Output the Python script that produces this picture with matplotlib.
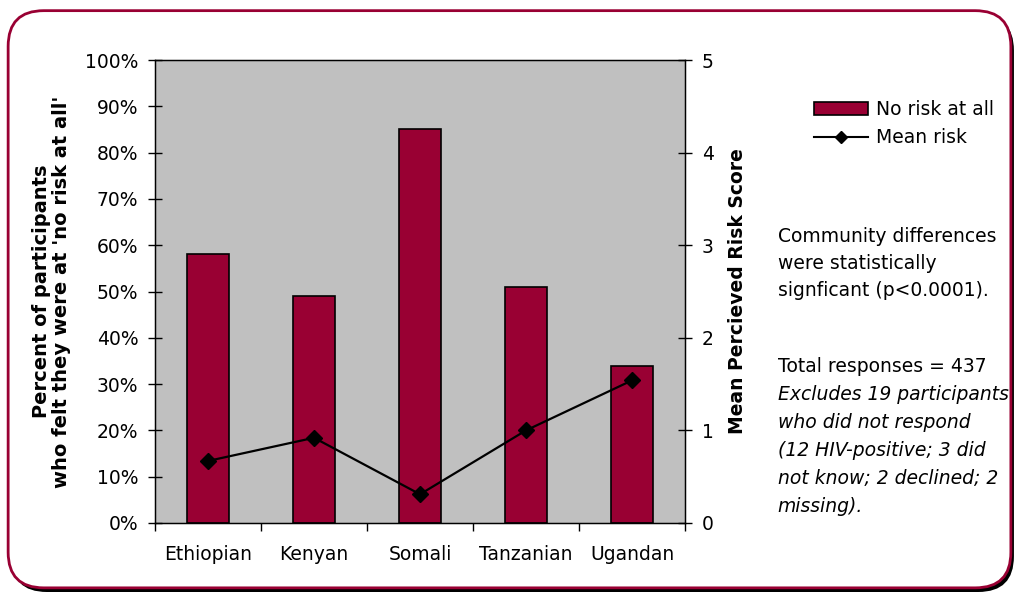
import numpy as np
import matplotlib.pyplot as plt
from matplotlib.patches import FancyBboxPatch
from matplotlib.lines import Line2D
from matplotlib.patches import Patch
from matplotlib.ticker import PercentFormatter

communities = ["Ethiopian", "Kenyan", "Somali", "Tanzanian", "Ugandan"]
no_risk_pct = [58, 49, 85, 51, 34]
mean_risk = [0.67, 0.92, 0.31, 1.0, 1.54]

bar_color = "#990033"
plot_bg = "#C0C0C0"

plt.rcParams["font.family"] = "DejaVu Sans"

fig = plt.figure(figsize=(10.18, 5.92), dpi=100)

# rounded frame with shadow
shadow = FancyBboxPatch((0.011, 0.0), 0.985, 0.975, boxstyle="round,pad=0,rounding_size=0.035",
                        transform=fig.transFigure, facecolor="black", edgecolor="none",
                        mutation_aspect=1018 / 592, zorder=-2)
frame = FancyBboxPatch((0.008, 0.007), 0.985, 0.975, boxstyle="round,pad=0,rounding_size=0.035",
                       transform=fig.transFigure, facecolor="white", edgecolor=bar_color,
                       linewidth=2, mutation_aspect=1018 / 592, zorder=-1)
fig.patches.extend([shadow, frame])

ax = fig.add_axes([0.1523, 0.1166, 0.5206, 0.782])
ax.set_facecolor(plot_bg)
x = np.arange(len(communities))
ax.bar(x, no_risk_pct, width=0.4, color=bar_color, edgecolor="black", linewidth=1.2, zorder=2)
ax.set_xlim(-0.5, len(communities) - 0.5)
ax.set_ylim(0, 100)
ax.set_yticks(np.arange(0, 101, 10))
ax.yaxis.set_major_formatter(PercentFormatter(decimals=0))
ax.set_xticks(x)
ax.set_xticklabels(communities, fontsize=13.5)
ax.tick_params(axis="x", length=0, pad=16)
ax.set_xticks(np.arange(-0.5, len(communities), 1), minor=True)
ax.tick_params(axis="x", which="minor", length=6, direction="out", width=1)
ax.tick_params(axis="y", direction="inout", length=10, labelsize=13.5, width=1, pad=7)
for s in ax.spines.values():
    s.set_linewidth(1)
    s.set_color("black")
ax.set_ylabel("Percent of participants\nwho felt they were at 'no risk at all'",
              fontsize=14, fontweight="bold", labelpad=10, linespacing=1.1)

ax2 = ax.twinx()
ax2.plot(x, mean_risk, color="black", linewidth=1.6, marker="D", markersize=8.5, zorder=3)
ax2.set_ylim(0, 5)
ax2.set_yticks(np.arange(0, 6, 1))
ax2.tick_params(axis="y", direction="inout", length=10, labelsize=13.5, width=1, pad=7)
ax2.set_ylabel("Mean Percieved Risk Score", fontsize=13.5, fontweight="bold", labelpad=10)

handles = [Patch(facecolor=bar_color, edgecolor="black", linewidth=1.2),
           Line2D([0], [0], color="black", linewidth=1.5, marker="D", markersize=6)]
fig.legend(handles, ["No risk at all", "Mean risk"], loc="upper left",
           bbox_to_anchor=(0.783, 0.86), frameon=False, fontsize=13.5,
           handlelength=2.9, handletextpad=0.4, labelspacing=0.5)

fig.text(0.764, 0.617, "Community differences\nwere statistically\nsignficant (p<0.0001).",
         fontsize=13.5, va="top", ha="left", linespacing=1.55)
fig.text(0.764, 0.397, "Total responses = 437", fontsize=13.5, va="top", ha="left")
fig.text(0.764, 0.349, "Excludes 19 participants\nwho did not respond\n(12 HIV-positive; 3 did\nnot know; 2 declined; 2\nmissing).",
         fontsize=13.5, va="top", ha="left", style="italic", linespacing=1.6)

fig.savefig("out.png", dpi=100)
